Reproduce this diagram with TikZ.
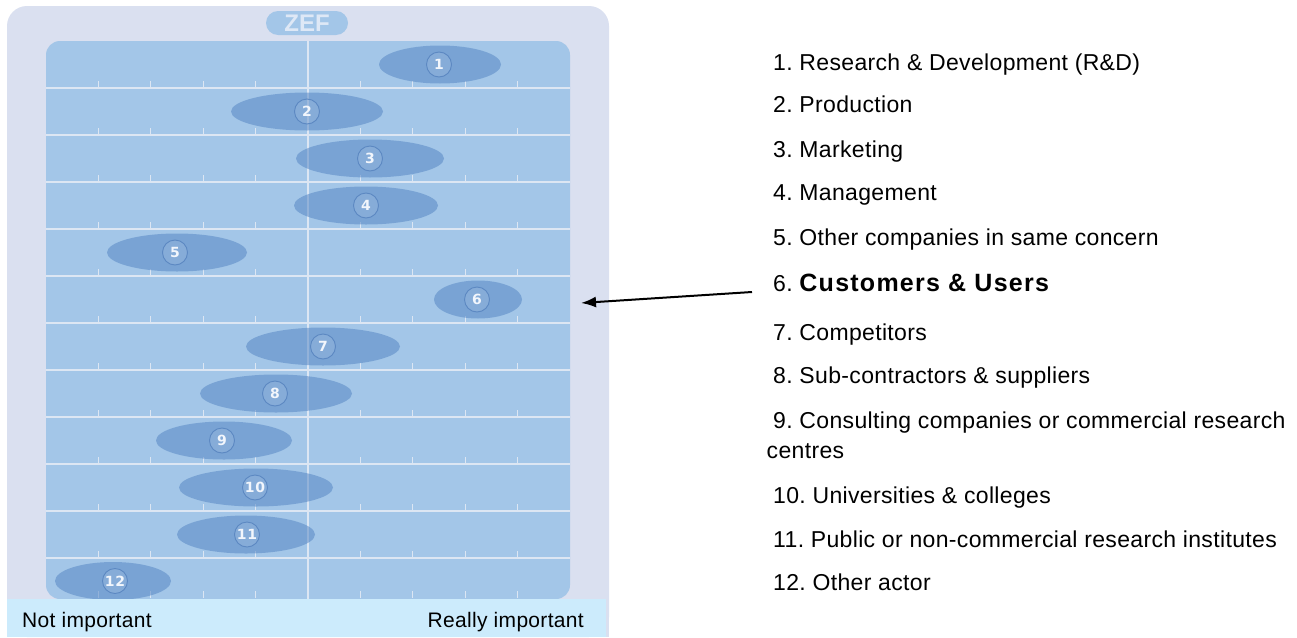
\documentclass[tikz,border=0pt]{standalone}
\usepackage{fontspec}
\setmainfont{Liberation Sans}
\newfontfamily\lst[LetterSpace=1.5]{Liberation Sans}
\newfontfamily\lstb[LetterSpace=5]{Liberation Sans}
\newfontfamily\numf[LetterSpace=4]{DejaVu Sans}
\usetikzlibrary{arrows.meta}
\definecolor{panel}{RGB}{218,224,240}
\definecolor{chartbg}{RGB}{163,198,232}
\definecolor{gridc}{RGB}{220,230,243}
\definecolor{ellc}{RGB}{88,136,196}
\definecolor{ringc}{RGB}{92,136,194}
\definecolor{barc}{RGB}{204,235,252}
\definecolor{numc}{RGB}{242,246,252}
\definecolor{zefc}{RGB}{222,232,246}
\frenchspacing
\begin{document}
\frenchspacing
\begin{tikzpicture}[x=1pt,y=-1pt,
  gridline/.style={draw=gridc,line width=2pt},
  tickline/.style={draw=gridc,line width=1.2pt},
  blob/.style={fill=ellc,fill opacity=0.55},
  badge/.style={circle,draw=ringc,line width=0.9pt,fill=white,fill opacity=0.1,text opacity=1,draw opacity=1,minimum size=25pt,inner sep=0pt,text=numc,font=\frenchspacing\numf\bfseries\fontsize{14}{14}\selectfont},
  item/.style={anchor=base west,inner sep=0pt,font=\frenchspacing\lst\fontsize{23}{27}\selectfont},
  axislabel/.style={inner sep=0pt,font=\lst\fontsize{21}{25}\selectfont},
  zefpill/.style={fill=chartbg,rounded corners=12pt,minimum width=82pt,minimum height=24pt,inner sep=0pt,text=zefc,font=\bfseries\fontsize{24}{24}\selectfont},
  pointer/.style={-{Latex[length=15pt,width=11pt]},line width=2pt,black}]
\useasboundingbox (0,0) rectangle (1297,637);
\fill[white] (0,0) rectangle (1297,637);
% outer panel
\fill[panel,rounded corners=20pt] (7,6) rectangle (609,637);
\fill[panel] (7,600) rectangle (609,637);
% chart area
\fill[chartbg,rounded corners=14pt] (46,41) rectangle (570,599);
\foreach \r in {1,...,11}
  \draw[gridline] (46,{41+47*\r}) -- (570,{41+47*\r});
\foreach \r in {1,...,12}{
  \pgfmathsetmacro{\yb}{min(41+47*\r,598)}
  \foreach \i in {1,2,3,4,6,7,8,9}
    \draw[tickline] ({46+52.4*\i},{\yb-7}) -- ({46+52.4*\i},\yb);
}
\draw[gridline] (307.5,41) -- (307.5,599);
% ellipses and badges
\foreach \n/\cx/\cy/\rx/\bx in {1/440/64.5/61/439, 2/307/111.5/76/307, 3/370/158.5/74/370,
  4/366/205.5/72/366, 5/177/252.5/70/175, 6/478/299.5/44/477, 7/323/346.5/77/323,
  8/276/393.5/76/275, 9/224/440.5/68/222, 10/256/487.5/77/255, 11/246/534.5/69/247,
  12/113/581/58/115}{
  \fill[blob] (\cx,\cy) ellipse [x radius=\rx pt, y radius=19pt];
  \node[badge] (b\n) at (\bx,\cy) {\n};
}
% bottom bar
\fill[barc] (7,599) rectangle (606,637);
\node[axislabel,anchor=base west] (notimp) at (22,627) {Not important};
\node[axislabel,anchor=base east] (realimp) at (584,627) {Really important};
% title pill
\node[zefpill] (zef) at (307,23) {ZEF};
% list
\node[item] (t1) at (773,70) {1. Research \& Development (R\&D)};
\node[item] (t2) at (773,112.5) {2. Production};
\node[item] (t3) at (773,157) {3. Marketing};
\node[item] (t4) at (773,200) {4. Management};
\node[item] (t5) at (773,245) {5. Other companies in same concern};
\node[item] (t6) at (773,291) {6. {\lstb\bfseries\fontsize{25}{29}\selectfont Customers \& Users}};
\node[item] (t7) at (773,340) {7. Competitors};
\node[item] (t8) at (773,383) {8. Sub-contractors \& suppliers};
\node[item] (t9) at (773,428) {9. Consulting companies or commercial research};
\node[item] (t9b) at (766.5,458.5) {centres};
\node[item] (t10) at (773,503) {10. Universities \& colleges};
\node[item] (t11) at (773,547) {11. Public or non-commercial research institutes};
\node[item] (t12) at (773,590) {12. Other actor};
% pointer
\coordinate (arrS) at (752,292);
\coordinate (arrE) at (581,303);
\draw[pointer] (arrS) -- (arrE);
\end{tikzpicture}
\end{document}
